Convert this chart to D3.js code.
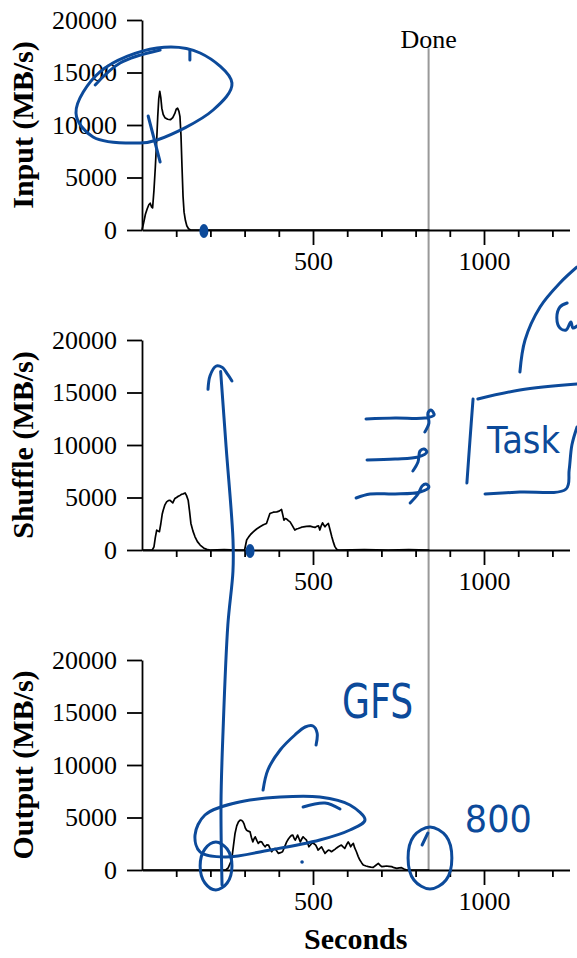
<!DOCTYPE html>
<html>
<head>
<meta charset="utf-8">
<script src="https://cdn.jsdelivr.net/npm/d3@7"></script>
<style>
  body { margin: 0; background: #fff; }
  svg { display: block; }
</style>
</head>
<body>
<div id="chart"></div>
<script>
// seconds, MB/s
const inputSeries = [
  [0, 0], [5, 700], [10, 1500], [15, 2000], [20, 2400], [24, 2550], [28, 2200], [31, 2100],
  [35, 3800], [39, 6000], [43, 8600], [46, 10800], [49, 12500], [52, 13200], [55, 12600],
  [58, 11600], [62, 11000], [67, 10700], [75, 10550], [83, 10500], [90, 10700], [96, 11100],
  [100, 11500], [104, 11600], [108, 11300], [111, 10800], [114, 9000], [117, 6000], [120, 3200],
  [123, 1700], [127, 900], [131, 400], [136, 120], [142, 0], [840, 0]
];
const shuffleSeries = [
  [0, 0], [30, 0], [35, 300], [39, 1200], [43, 1900], [47, 1800], [51, 1740], [55, 2500],
  [59, 3400], [62, 3790], [67, 4300], [72, 4580], [77, 4700], [82, 4740], [86, 4600], [90, 4490],
  [93, 4700], [96, 4900], [101, 5000], [106, 5120], [111, 5200], [116, 5310], [121, 5350],
  [126, 5430], [130, 5200], [135, 4740], [139, 3700], [143, 2530], [149, 1800], [155, 1260],
  [162, 800], [170, 470], [180, 200], [189, 60], [199, 0], [240, 30], [280, 0], [300, 0],
  [306, 950], [312, 1250], [318, 1500], [326, 1740], [335, 2000], [345, 2210], [355, 2400],
  [364, 2530], [369, 3000], [374, 3480], [384, 3600], [394, 3630], [401, 3700], [408, 3860],
  [412, 3300], [415, 2840], [419, 3000], [423, 2950], [428, 2800], [433, 2680], [440, 2300],
  [447, 1900], [452, 2000], [457, 2050], [465, 2150], [472, 2210], [481, 2250], [491, 2270],
  [499, 2200], [506, 2150], [511, 2250], [516, 2300], [520, 1900], [524, 2300], [528, 2590],
  [532, 2350], [535, 2210], [540, 2400], [545, 2530], [550, 1900], [555, 1260], [560, 700],
  [564, 320], [569, 80], [574, 0], [650, 40], [720, 0], [780, 30], [840, 0]
];
const outputSeries = [
  [0, 0], [245, 0], [252, 200], [262, 950], [267, 2200], [272, 3480], [277, 4200], [282, 4580],
  [287, 4750], [291, 4740], [295, 4600], [298, 4420], [302, 4000], [306, 3790], [311, 3700],
  [316, 3630], [320, 3100], [324, 2680], [328, 3000], [331, 3160], [336, 2800], [340, 2530],
  [345, 2700], [350, 2680], [355, 2400], [360, 2210], [365, 2400], [370, 2370], [375, 2000],
  [379, 1740], [384, 1950], [389, 2050], [394, 1800], [399, 1580], [405, 1650], [411, 1740],
  [417, 2200], [423, 2680], [428, 2950], [433, 3160], [437, 3300], [441, 3320], [445, 3000],
  [448, 2840], [452, 3100], [455, 3320], [459, 3000], [463, 2680], [467, 2950], [471, 3160],
  [476, 3000], [481, 2840], [485, 2500], [488, 2210], [493, 2400], [498, 2590], [503, 2500],
  [508, 2370], [512, 2100], [515, 1900], [520, 2050], [525, 2210], [530, 1900], [535, 1580],
  [540, 1750], [545, 1900], [550, 1850], [554, 1740], [559, 1850], [564, 1960], [569, 2100],
  [574, 2210], [579, 2300], [583, 2370], [588, 2200], [593, 2050], [598, 2400], [603, 2680],
  [607, 2450], [610, 2210], [614, 2400], [618, 2530], [622, 2100], [627, 1740], [632, 1300],
  [637, 950], [642, 700], [647, 470], [655, 380], [662, 320], [669, 280], [676, 250], [684, 450],
  [691, 630], [696, 450], [701, 320], [708, 350], [715, 380], [722, 350], [730, 320], [737, 220],
  [745, 160], [752, 200], [759, 220], [766, 100], [774, 0], [840, 0]
];

const panelTitles = ["Input (MB/s)", "Shuffle (MB/s)", "Output (MB/s)"];
const panelSeries = [inputSeries, shuffleSeries, outputSeries];
const yTicks = [0, 5000, 10000, 15000, 20000];
const xMajorTicks = [500, 1000];
const xMinorTicks = [100, 200, 300, 400, 600, 700, 800, 900, 1100, 1200];
const xDomain = [0, 1250];
const yDomain = [0, 20000];
const doneTime = 838;
const doneLabel = "Done";
const xLabel = "Seconds";

// hand-drawn ink, in [seconds, MB/s] of the panel it sits on
const inkStrokes = [
  { panel: 0, closed: true, pts: [[-193, 11143], [-123, 15048], [44, 17333], [170, 16857], [263, 14000], [208, 11429], [44, 8571], [-6, 8286], [-143, 8857]] },
  { panel: 0, pts: [[-137, 13810], [-64, 15905], [53, 17143]] },
  { panel: 0, pts: [[18, 10857], [53, 6476]] },
  { panel: 0, pts: [[140, 17143], [140, 16190]] },
  { panel: 1, pts: [[234, -31900], [231, -24095], [237, -17238], [251, -7143], [266, -2000], [266, 1048], [246, 9810], [230, 17000]] },
  { panel: 1, pts: [[193, 15300], [199, 16600], [216, 17500], [234, 17400], [251, 16700], [263, 16100]] },
  { panel: 1, pts: [[655, 12476], [740, 12571], [827, 12571], [854, 12857], [845, 13333], [836, 13048], [839, 12095], [827, 11238]] },
  { panel: 1, pts: [[658, 8571], [740, 8667], [807, 8857], [833, 9333], [825, 9619], [813, 9429], [807, 8381], [792, 7524]] },
  { panel: 1, pts: [[626, 4952], [667, 5333], [740, 5333], [813, 5524], [839, 6000], [830, 6286], [819, 6095], [807, 5333], [784, 4476]] },
  { panel: 1, pts: [[982, 14381], [1105, 15238], [1272, 15810]] },
  { panel: 1, pts: [[968, 14381], [959, 10476], [950, 6381]] },
  { panel: 1, pts: [[1003, 5333], [1105, 5524], [1240, 5810], [1249, 7619], [1257, 10000], [1272, 11714]] },
  { panel: 1, pts: [[1105, 16952], [1120, 20000], [1164, 23143], [1222, 25429], [1272, 26952]] },
  { panel: 1, pts: [[1243, 23524], [1222, 23143], [1213, 22095], [1222, 21143], [1240, 20952], [1254, 21714], [1260, 21143], [1272, 21333]] },
  { panel: 2, closed: true, pts: [[155, 3333], [184, 5238], [272, 6381], [404, 6952], [520, 6952], [608, 6190], [652, 4762], [608, 3810], [520, 2857], [374, 1905], [243, 1238], [170, 1714]] },
  { panel: 2, pts: [[471, 6000], [535, 6381], [579, 5810]] },
  { panel: 2, pts: [[354, 7619], [368, 9524], [404, 11429], [447, 12857], [477, 13619], [500, 13714], [512, 13048], [509, 11905]] },
  { panel: 2, closed: true, pts: [[170, 381], [184, 2000], [216, 2667], [249, 2000], [263, 381], [249, -1238], [216, -1905], [184, -1238]] },
  { panel: 2, closed: true, pts: [[778, 1143], [795, 3238], [842, 4095], [889, 3238], [906, 1143], [889, -952], [842, -1810], [795, -952]] },
  { panel: 2, pts: [[819, 2381], [836, 3524]] }
];
const inkBlobs = [[0, 181, -95], [1, 316, -95]];
const inkSpecks = [[2, 468, 762]];
const inkNotes = [
  { panel: 1, t: 1009, v: 9238, text: "Task", width: 73 },
  { panel: 2, t: 585, v: 14476, text: "GFS", width: 71 },
  { panel: 2, t: 944, v: 3619, text: "800", width: 67 }
];

const width = 577, height = 958;
const marginLeft = 142, marginRight = 7.5, marginTop = 20;
const panelHeight = 210, panelStep = 320;
const serif = "'Liberation Serif', 'Times New Roman', serif";
const ink = "#0c4a9a";

const svg = d3.select("#chart").append("svg")
  .attr("width", width)
  .attr("height", height)
  .attr("viewBox", [0, 0, width, height]);

svg.append("rect").attr("width", width).attr("height", height).attr("fill", "#fff");

const x = d3.scaleLinear().domain(xDomain).range([marginLeft, width - marginRight]);
const yScales = panelSeries.map((_, i) => d3.scaleLinear()
  .domain(yDomain)
  .range([marginTop + i * panelStep + panelHeight, marginTop + i * panelStep]));

// Done marker spans all three panels
const doneTop = yScales[0](17300);
svg.append("line")
  .attr("x1", x(doneTime)).attr("x2", x(doneTime))
  .attr("y1", doneTop).attr("y2", yScales[2](0))
  .attr("stroke", "#999").attr("stroke-width", 2);
svg.append("text")
  .attr("x", x(doneTime)).attr("y", doneTop)
  .attr("text-anchor", "middle")
  .attr("font-family", serif).attr("font-size", 26)
  .text(doneLabel);

const line = d3.line()
  .x(d => x(d[0]))
  .y(d => d[1]);

panelSeries.forEach((series, i) => {
  const y = yScales[i];
  const g = svg.append("g");

  g.append("g")
    .attr("transform", `translate(${marginLeft},0)`)
    .call(d3.axisLeft(y).tickValues(yTicks).tickSize(15).tickPadding(10).tickSizeOuter(0).tickFormat(d3.format("d")))
    .call(a => a.attr("font-family", serif).attr("font-size", 26))
    .call(a => a.selectAll("text").attr("fill", "#000"))
    .call(a => a.selectAll("path, line").attr("stroke", "#000").attr("stroke-width", 1.8));

  g.append("g")
    .attr("transform", `translate(0,${y(0)})`)
    .call(d3.axisBottom(x).tickValues(xMinorTicks).tickSize(7).tickFormat("").tickSizeOuter(0))
    .call(a => a.selectAll("path, line").attr("stroke", "#000").attr("stroke-width", 1.8));

  g.append("g")
    .attr("transform", `translate(0,${y(0)})`)
    .call(d3.axisBottom(x).tickValues(xMajorTicks).tickSize(15).tickPadding(7).tickSizeOuter(0).tickFormat(d3.format("d")))
    .call(a => a.select(".domain").remove())
    .call(a => a.attr("font-family", serif).attr("font-size", 26))
    .call(a => a.selectAll("text").attr("fill", "#000"))
    .call(a => a.selectAll("line").attr("stroke", "#000").attr("stroke-width", 1.8));

  g.append("text")
    .attr("transform", `translate(33,${(y.range()[0] + y.range()[1]) / 2}) rotate(-90)`)
    .attr("text-anchor", "middle")
    .attr("font-family", serif).attr("font-size", 30).attr("font-weight", "bold")
    .text(panelTitles[i]);

  g.append("path")
    .attr("fill", "none")
    .attr("stroke", "#000")
    .attr("stroke-width", 1.7)
    .attr("stroke-linejoin", "round")
    .attr("d", line(series.map(d => [d[0], y(d[1])])));
});

svg.append("text")
  .attr("x", (x.range()[0] + x.range()[1]) / 2)
  .attr("y", yScales[2](0) + 79)
  .attr("text-anchor", "middle")
  .attr("font-family", serif).attr("font-size", 30).attr("font-weight", "bold")
  .text(xLabel);

// ink layer
const inkLayer = svg.append("g")
  .attr("fill", "none")
  .attr("stroke", ink)
  .attr("stroke-width", 3)
  .attr("stroke-linecap", "round")
  .attr("stroke-linejoin", "round");

inkStrokes.forEach(s => {
  const y = yScales[s.panel];
  const l = d3.line()
    .x(d => x(d[0]))
    .y(d => y(d[1]))
    .curve(s.closed ? d3.curveCatmullRomClosed : d3.curveCatmullRom);
  inkLayer.append("path").attr("d", l(s.pts));
});

inkBlobs.forEach(([p, t, v]) => {
  inkLayer.append("ellipse")
    .attr("cx", x(t)).attr("cy", yScales[p](v))
    .attr("rx", 4.5).attr("ry", 7)
    .attr("fill", ink).attr("stroke", "none");
});

inkSpecks.forEach(([p, t, v]) => {
  inkLayer.append("circle")
    .attr("cx", x(t)).attr("cy", yScales[p](v))
    .attr("r", 1.8)
    .attr("fill", ink).attr("stroke", "none");
});

inkNotes.forEach(n => {
  inkLayer.append("text")
    .attr("x", x(n.t)).attr("y", yScales[n.panel](n.v))
    .attr("font-family", "'DejaVu Sans', sans-serif")
    .attr("font-size", n.text === "GFS" ? 48 : 38)
    .attr("textLength", n.width)
    .attr("lengthAdjust", "spacingAndGlyphs")
    .attr("fill", ink).attr("stroke", "none")
    .text(n.text);
});
</script>
</body>
</html>
